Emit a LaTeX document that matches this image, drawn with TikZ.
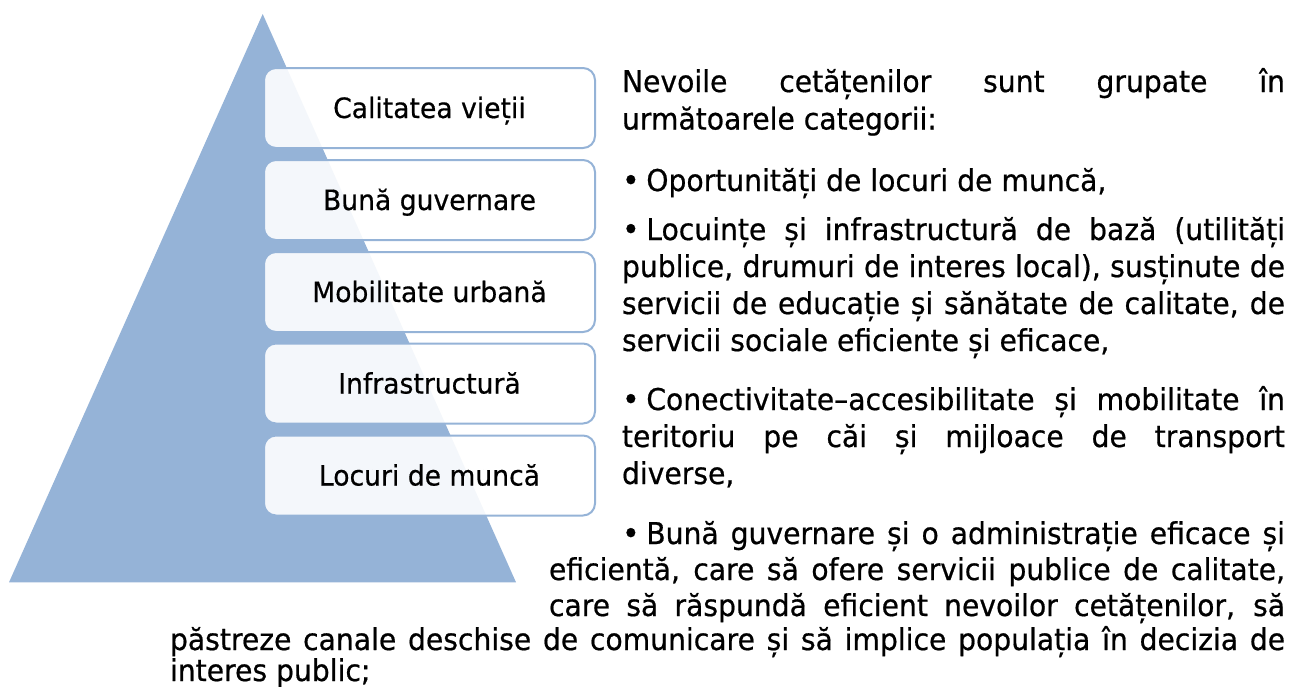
\documentclass[tikz,border=0pt]{standalone}
\usepackage{fontspec}
\newfontfamily\mainf[FakeStretch=0.94,FakeBold=0.6]{DejaVu Sans}
\newfontfamily\boxf[FakeStretch=0.95,FakeBold=0.5]{DejaVu Sans}
\definecolor{tri}{HTML}{95B3D7}
\newcommand{\bul}{\raisebox{-0.5pt}{\fontsize{32}{32}\selectfont •}\kern0.22em}
\tikzset{
  catbox/.style={draw=tri, line width=2pt, fill=white, fill opacity=0.9, text opacity=1,
    rounded corners=12pt, minimum width=331pt, minimum height=80pt, inner sep=0pt,
    text height=20pt, text depth=0pt, font=\boxf\fontsize{28}{32}\selectfont},
  txtline/.style={anchor=base west, inner sep=0pt, outer sep=0pt,
    font=\mainf\fontsize{30}{36}\selectfont}
}
\begin{document}
\begin{tikzpicture}[x=1pt,y=-1pt]
\useasboundingbox (0,0) rectangle (1293,686);
% pyramid
\coordinate (apex) at (262.7,14);
\coordinate (bl) at (9,582.3);
\coordinate (br) at (516,582.3);
\fill[tri] (apex) -- (br) -- (bl) -- cycle;
% category boxes
\node[catbox] (b1) at (429.5,108) {Calitatea vieții};
\node[catbox] (b2) at (429.5,200) {Bună guvernare};
\node[catbox] (b3) at (429.5,292) {Mobilitate urbană};
\node[catbox] (b4) at (429.5,383.5) {Infrastructură};
\node[catbox] (b5) at (429.5,475.5) {Locuri de muncă};
% text lines
\node[txtline] (t1) at (622,92) {\makebox[663pt][s]{Nevoile cetățenilor sunt grupate în}};
\node[txtline] (t2) at (622,129.5) {următoarele categorii:};
\node[txtline] (t3) at (622,191) {\bul Oportunități de locuri de muncă,};
\node[txtline] (t4) at (622,240) {\makebox[663pt][s]{\bul Locuințe și infrastructură de bază (utilități}};
\node[txtline] (t5) at (622,277) {\makebox[663pt][s]{publice, drumuri de interes local), susținute de}};
\node[txtline] (t6) at (622,314) {\makebox[663pt][s]{servicii de educație și sănătate de calitate, de}};
\node[txtline] (t7) at (622,351) {servicii sociale eficiente și eficace,};
\node[txtline] (t8) at (622,410) {\makebox[663pt][s]{\bul Conectivitate–accesibilitate și mobilitate în}};
\node[txtline] (t9) at (622,447) {\makebox[663pt][s]{teritoriu pe căi și mijloace de transport}};
\node[txtline] (t10) at (622,484) {diverse,};
\node[txtline] (t11) at (622,544) {\makebox[663pt][s]{\bul Bună guvernare și o administrație eficace și}};
\node[txtline] (t12) at (549,580) {\makebox[736pt][s]{eficientă, care să ofere servicii publice de calitate,}};
\node[txtline] (t13) at (549,616) {\makebox[736pt][s]{care să răspundă eficient nevoilor cetățenilor, să}};
\node[txtline] (t14) at (170,650) {\makebox[1115pt][s]{păstreze canale deschise de comunicare și să implice populația în decizia de}};
\node[txtline] (t15) at (170,681) {interes public;};
\end{tikzpicture}
\end{document}
